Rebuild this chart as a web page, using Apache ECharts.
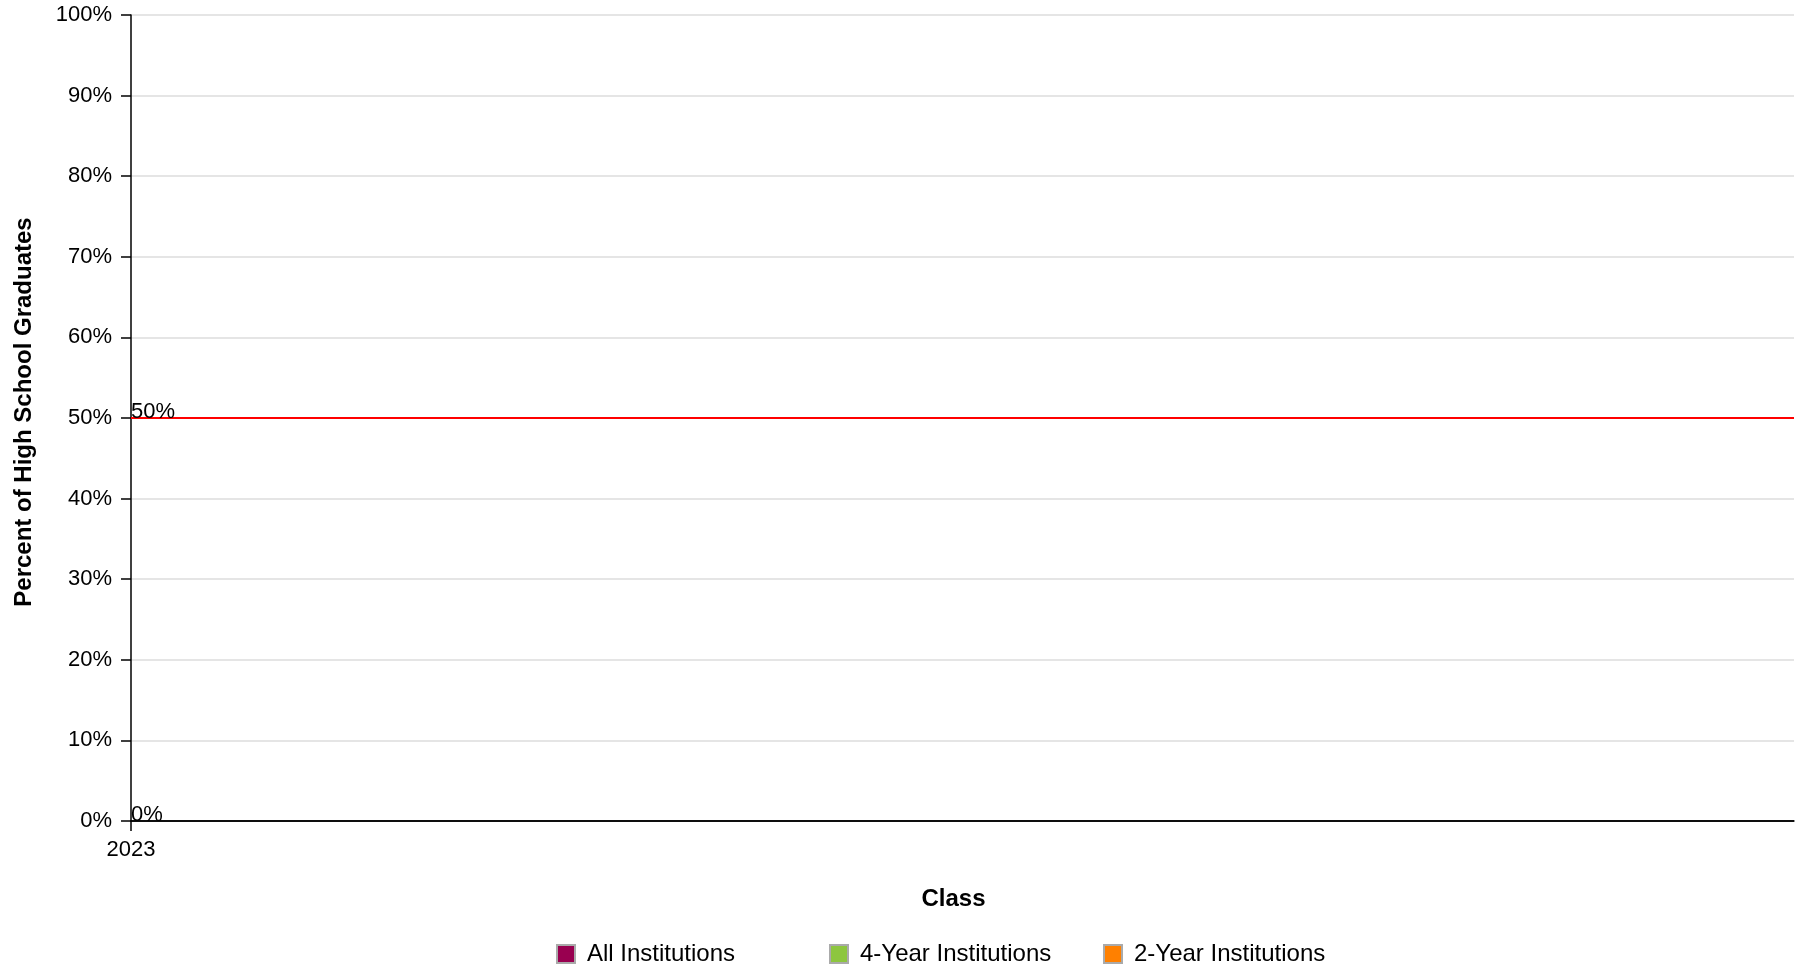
<!DOCTYPE html>
<html>
<head>
<meta charset="utf-8">
<script src="https://cdn.jsdelivr.net/npm/echarts@6/dist/echarts.min.js"></script>
<style>
html,body{margin:0;padding:0;background:#fff;}
#chart{width:1796px;height:971px;}
</style>
</head>
<body>
<div id="chart"></div>
<script>
const classes = [2023];
const seriesNames = ['All Institutions', '4-Year Institutions', '2-Year Institutions'];
const seriesColors = ['#990050', '#8dc63f', '#ff8000'];
const allInstitutions = [];
const fourYear = [];
const twoYear = [];
const referenceLines = [50, 0];

const FONT = '"Liberation Sans", Arial, Helvetica, sans-serif';
const legendLefts = [551, 824, 1098];
const chart = echarts.init(document.getElementById('chart'));
chart.setOption({
  animation: false,
  textStyle: { fontFamily: FONT },
  grid: { left: 131, right: 2, top: 15, bottom: 150, containLabel: false },
  xAxis: {
    type: 'value',
    min: classes[0],
    max: classes[0] + 1,
    name: 'Class',
    nameLocation: 'middle',
    nameGap: 66,
    nameTextStyle: { fontFamily: FONT, fontSize: 24, fontWeight: 'bold', color: '#000', padding: [0, 18, 0, 0] },
    axisLine: { show: true, lineStyle: { color: '#000', width: 1.5 } },
    axisTick: { show: true, length: 10, lineStyle: { color: '#000', width: 1.5 }, customValues: classes },
    axisLabel: { customValues: classes, fontFamily: FONT, fontSize: 22, color: '#000', margin: 18, formatter: v => String(v) },
    splitLine: { show: false }
  },
  yAxis: {
    type: 'value',
    min: 0,
    max: 100,
    interval: 10,
    name: 'Percent of High School Graduates',
    nameLocation: 'middle',
    nameGap: 95,
    nameTextStyle: { fontFamily: FONT, fontSize: 24, fontWeight: 'bold', color: '#000', padding: [0, 0, 0, 12] },
    axisLine: { show: true, lineStyle: { color: '#000', width: 1.5 } },
    axisTick: { show: true, length: 10, lineStyle: { color: '#000', width: 1.5 } },
    axisLabel: { fontFamily: FONT, fontSize: 22, color: '#000', margin: 19, formatter: v => v + '%' },
    splitLine: { show: true, lineStyle: { color: '#dcdcdc', width: 1.5 } }
  },
  legend: seriesNames.map((n, i) => ({
    bottom: 0,
    left: legendLefts[i],
    itemWidth: 18,
    itemHeight: 18,
    icon: 'rect',
    textStyle: { fontFamily: FONT, fontSize: 24, color: '#000', padding: [0, 0, 0, 7] },
    data: [n]
  })),
  series: [
    {
      name: seriesNames[0], type: 'line', data: allInstitutions,
      color: seriesColors[0],
      itemStyle: { color: seriesColors[0], borderColor: '#aaa', borderWidth: 1 },
      markLine: {
        silent: true, symbol: 'none',
        data: [
          { yAxis: referenceLines[0], lineStyle: { color: '#ff0000', width: 2, type: 'solid' },
            label: { show: true, position: 'insideStartTop', distance: [0, -5], formatter: '50%', fontFamily: FONT, fontSize: 22, color: '#000' } },
          { yAxis: referenceLines[1], lineStyle: { color: '#000', width: 1.5, type: 'solid' },
            label: { show: true, position: 'insideStartTop', distance: [0, -5], formatter: '0%', fontFamily: FONT, fontSize: 22, color: '#000' } }
        ]
      }
    },
    { name: seriesNames[1], type: 'line', data: fourYear, color: seriesColors[1], itemStyle: { color: seriesColors[1], borderColor: '#aaa', borderWidth: 1 } },
    { name: seriesNames[2], type: 'line', data: twoYear, color: seriesColors[2], itemStyle: { color: seriesColors[2], borderColor: '#aaa', borderWidth: 1 } }
  ]
});
</script>
</body>
</html>
